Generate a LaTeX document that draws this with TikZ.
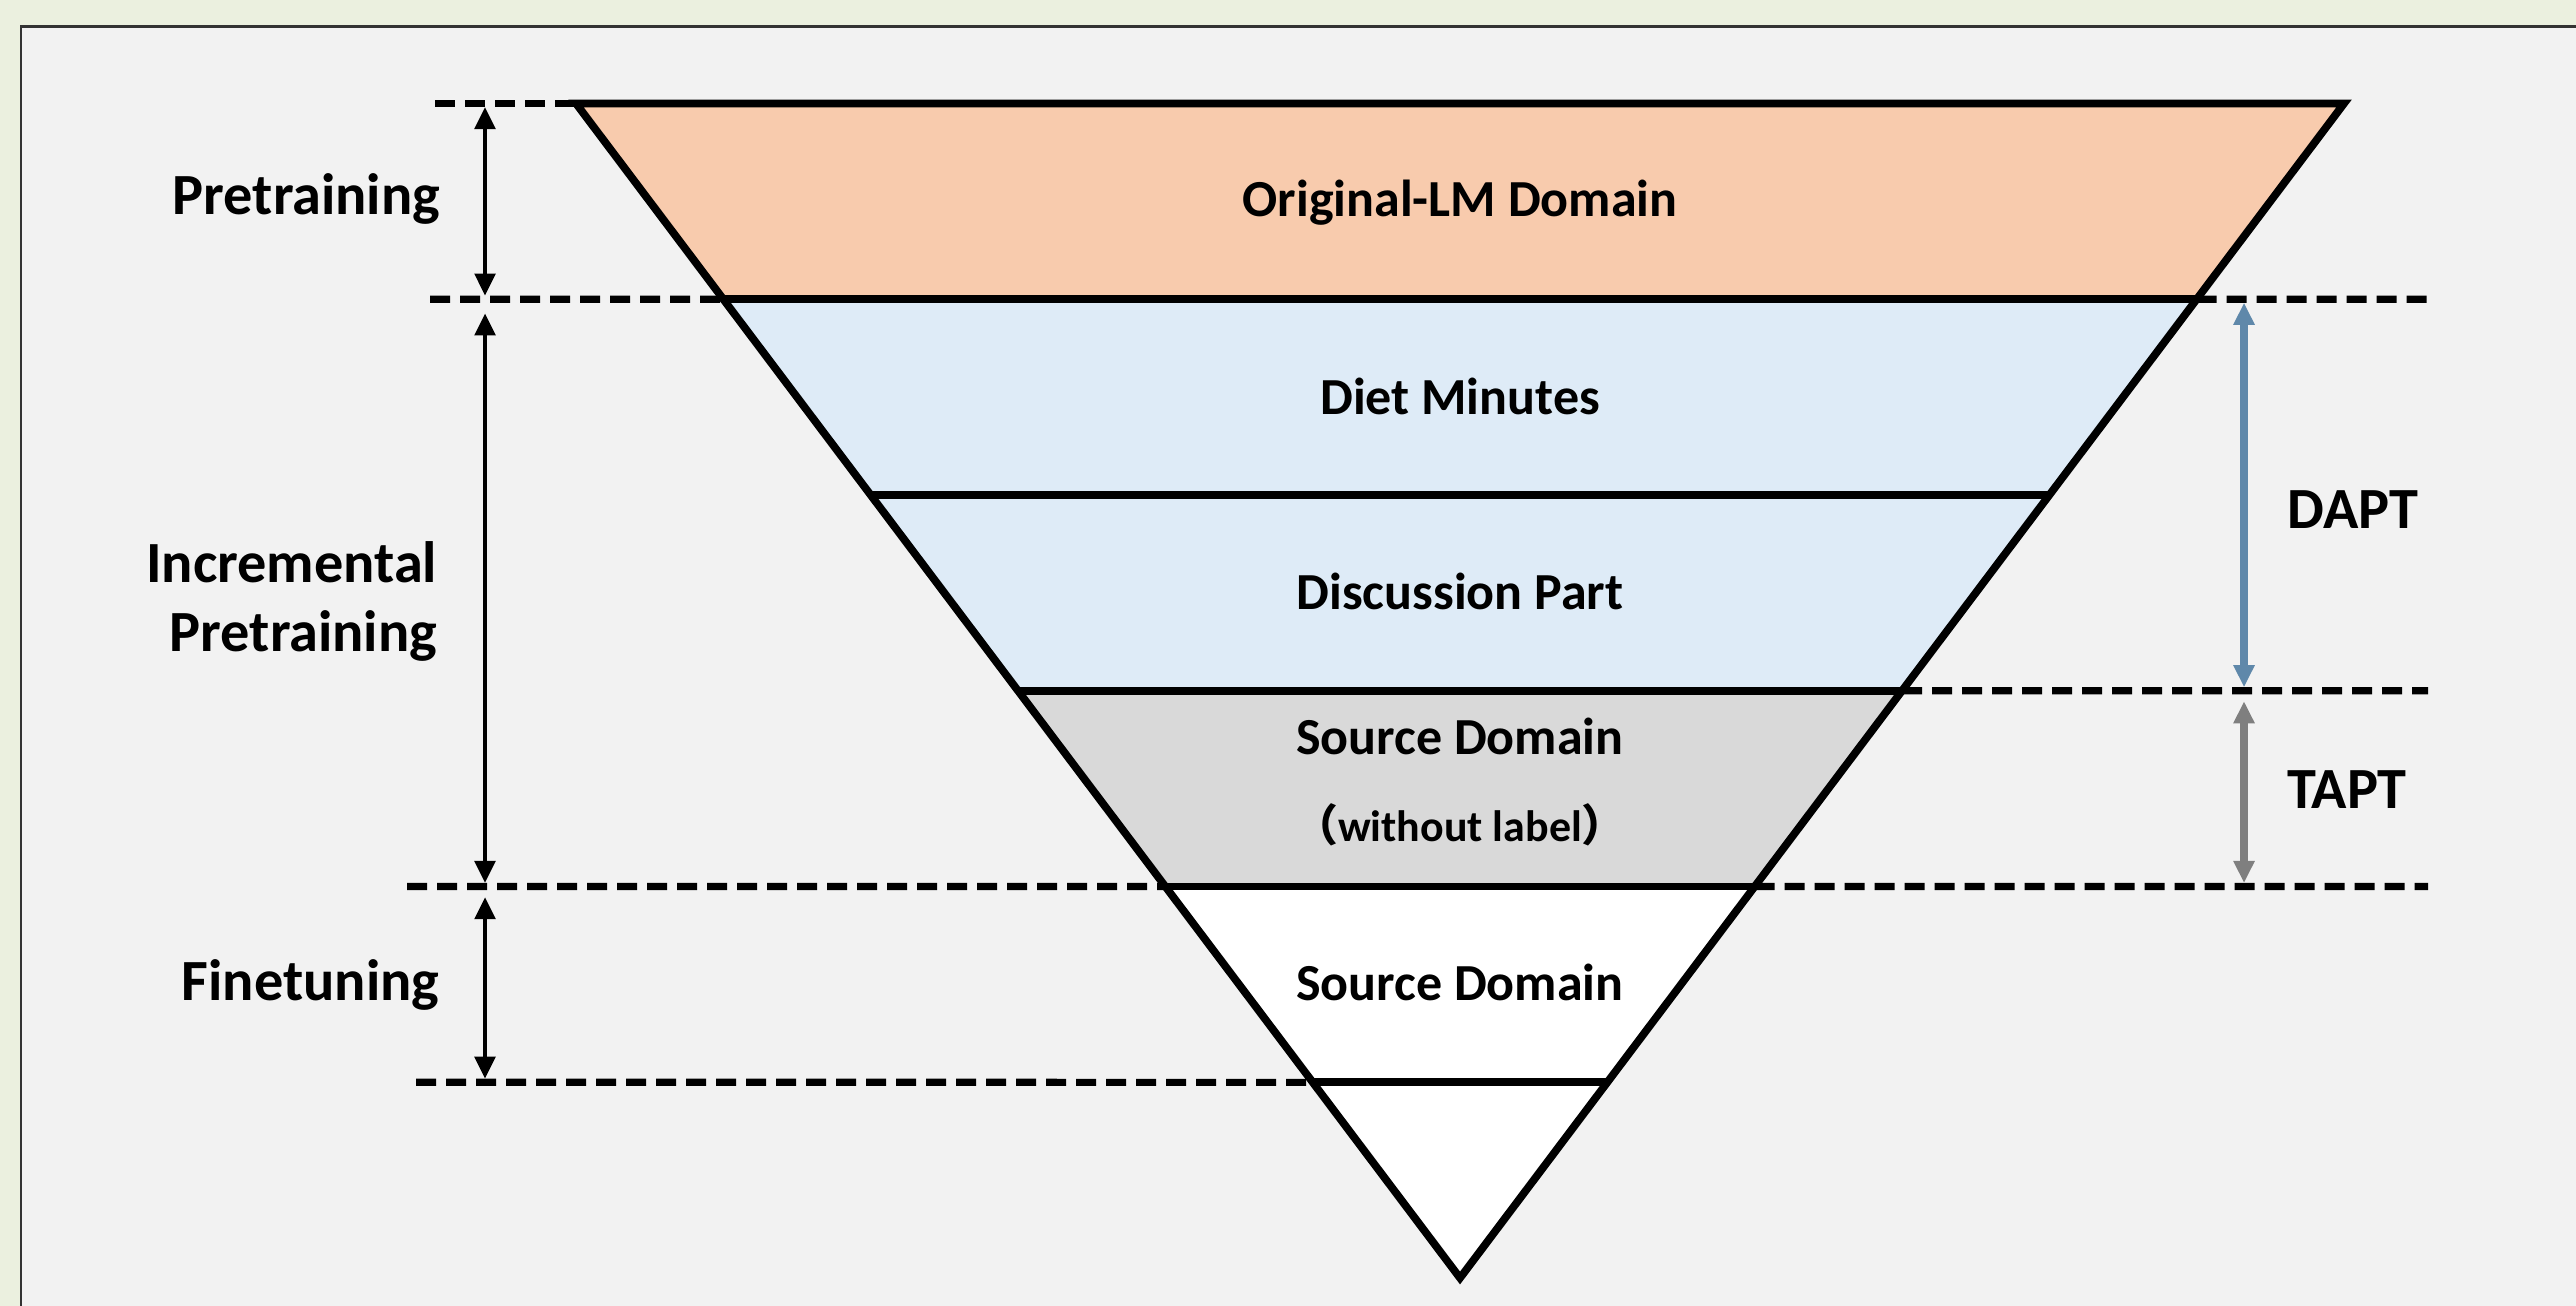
\documentclass[tikz,border=0pt]{standalone}
\usepackage{fontspec}
\setmainfont{Carlito}
\newfontfamily\cjkfont{Noto Sans CJK SC}
\usepackage{tikz}
\usepackage{xcolor}
\usetikzlibrary{arrows.meta,calc}

\definecolor{outergreen}{HTML}{EBF0DF}
\definecolor{panelgray}{HTML}{F2F2F2}
\definecolor{lmorange}{HTML}{F8CBAD}
\definecolor{dietblue}{HTML}{DEEBF7}
\definecolor{srcgray}{HTML}{D9D9D9}
\definecolor{daptblue}{HTML}{5F88AA}
\definecolor{taptgray}{HTML}{7F7F7F}

\begin{document}
\begin{tikzpicture}[
  lvl/.style={font=\fontsize{14.8}{18}\selectfont\bfseries, inner sep=0pt},
  side/.style={font=\fontsize{16.6}{19.8}\selectfont\bfseries, inner sep=0pt, align=right},
  guide/.style={line width=2pt, dash pattern=on 0.2cm off 0.1cm},
  outline/.style={line width=2.2pt, line join=miter},
  span/.style={{Triangle[length=0.22cm,width=0.2cm]}-{Triangle[length=0.22cm,width=0.2cm]},
               line width=1.4pt, shorten <=1pt, shorten >=1pt},
  cspan/.style={span, line width=2.2pt}
]
  \useasboundingbox (0,0) rectangle (25.76,-13.06);
  \fill[outergreen] (0,0) rectangle (25.76,-13.06);
  \filldraw[fill=panelgray, draw=black!80, line width=0.8pt] (0.21,-0.265) rectangle (26.5,-13.8);

  % funnel corners and the five cuts (six equal bands)
  \coordinate (apex) at (14.6,-12.78);
  \coordinate (tl) at (5.76,-1.035);
  \coordinate (tr) at (23.44,-1.035);
  \coordinate (l1) at ($(apex)!5/6!(tl)$);  \coordinate (r1) at ($(apex)!5/6!(tr)$);
  \coordinate (l2) at ($(apex)!4/6!(tl)$);  \coordinate (r2) at ($(apex)!4/6!(tr)$);
  \coordinate (l3) at ($(apex)!3/6!(tl)$);  \coordinate (r3) at ($(apex)!3/6!(tr)$);
  \coordinate (l4) at ($(apex)!2/6!(tl)$);  \coordinate (r4) at ($(apex)!2/6!(tr)$);
  \coordinate (l5) at ($(apex)!1/6!(tl)$);  \coordinate (r5) at ($(apex)!1/6!(tr)$);

  \fill[lmorange] (tl) -- (tr) -- (r1) -- (l1) -- cycle;
  \fill[dietblue] (l1) -- (r1) -- (r3) -- (l3) -- cycle;
  \fill[srcgray]  (l3) -- (r3) -- (r4) -- (l4) -- cycle;
  \fill[white]    (l4) -- (r4) -- (apex) -- cycle;

  \foreach \i in {1,...,5}
    \draw[outline] (l\i) -- (r\i);
  \draw[outline] (tl) -- (tr) -- (apex) -- cycle;

  % dashed guides
  \coordinate (gl0) at (4.35,-1.035);
  \coordinate (gl1) at (4.30,-2.9925);
  \coordinate (gl4) at (4.07,-8.865);
  \coordinate (gl5) at (4.16,-10.8225);
  \coordinate (gr1) at (24.28,-2.9925);
  \coordinate (gr3) at (24.28,-6.9075);
  \coordinate (gr4) at (24.28,-8.865);
  \draw[guide] (gl0) -- (tl);
  \draw[guide] (gl1) -- (l1);
  \draw[guide] (gl4) -- (l4);
  \draw[guide] (gl5) -- (l5);
  \draw[guide] (r1) -- (gr1);
  \draw[guide] (r3) -- (gr3);
  \draw[guide] (r4) -- (gr4);

  % stage spans
  \coordinate (pa) at (4.85,-1.035);
  \coordinate (pb) at (4.85,-2.9925);
  \coordinate (pc) at (4.85,-8.865);
  \coordinate (pd) at (4.85,-10.8225);
  \coordinate (qa) at (22.44,-2.9925);
  \coordinate (qb) at (22.44,-6.9075);
  \coordinate (qc) at (22.44,-8.865);
  \draw[span] (pa) -- (pb);
  \draw[span, shorten <=4pt] (pb) -- (pc);
  \draw[span, shorten <=3pt] (pc) -- (pd);
  \draw[cspan, daptblue] (qa) -- (qb);
  \draw[cspan, taptgray, shorten <=3pt] (qb) -- (qc);

  \node[side, anchor=base east] (pretrain) at (4.41,-2.15) {Pretraining};
  \node[side, anchor=base east] (incr) at (4.38,-6.52) {Incremental\\Pretraining};
  \node[side, anchor=east] (finetune) at (4.40,-9.85) {Finetuning};
  \node[side] (dapt) at (23.53,-5.095) {DAPT};
  \node[side] (tapt) at (23.47,-7.895) {TAPT};

  \node[lvl] (orig) at (14.6,-2.03) {Original-LM Domain};
  \node[lvl] (diet) at (14.6,-3.96) {Diet Minutes};
  \node[lvl] (disc) at (14.6,-5.91) {Discussion Part};
  \node[lvl] (srcu) at (14.6,-7.36) {Source Domain};
  \node[lvl, font=\fontsize{12.5}{15}\selectfont\bfseries] (nolab) at (14.6,-8.25)
    {{\cjkfont （}without label{\cjkfont ）}};
  \node[lvl] (src) at (14.6,-9.82) {Source Domain};
\end{tikzpicture}
\end{document}
